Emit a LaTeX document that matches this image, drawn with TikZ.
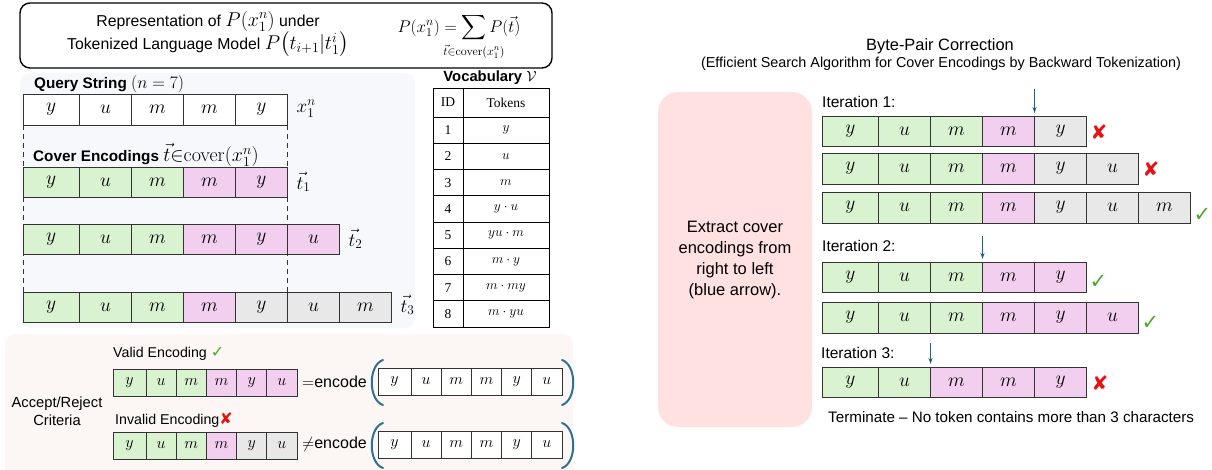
\RequirePackage{fix-cm}
\documentclass[tikz,border=0pt]{standalone}
\usepackage{exscale}
\usepackage[no-math]{fontspec}
\setmainfont{Liberation Sans}
\newfontfamily\tabfont{Liberation Serif}
\newfontfamily\symfont{DejaVu Sans}
\usetikzlibrary{arrows.meta,calc}

\definecolor{cellgreen}{HTML}{D9F2D0}
\definecolor{cellpink}{HTML}{F2CEEF}
\definecolor{cellgray}{HTML}{E8E8E8}
\definecolor{querybg}{HTML}{F6F8FB}
\definecolor{criteriabg}{HTML}{FCF7F4}
\definecolor{notebg}{HTML}{FFE1E1}
\definecolor{arrowblue}{HTML}{1F5F8B}
\definecolor{bracketblue}{HTML}{2F7196}
\definecolor{okgreen}{HTML}{4EA72E}
\definecolor{badred}{HTML}{E81010}

\newcommand{\bigmath}[1]{{\fontsize{20}{22}\selectfont$#1$}}

\tikzset{
  tokcell/.style={draw=black!80, line width=0.9pt, inner sep=0pt, outer sep=0pt,
    font=\fontsize{19.5}{21}\selectfont},
  smallcell/.style={font=\fontsize{16}{18}\selectfont},
  vcell/.style={draw=black, line width=0.8pt, inner sep=0pt, outer sep=0pt,
    anchor=north west, font=\tabfont\fontsize{13.5}{15}\selectfont},
  txt/.style={font=\fontsize{15.5}{18}\selectfont, inner sep=1pt},
  boldtxt/.style={font=\bfseries\fontsize{15.3}{18}\selectfont, inner sep=1pt},
  veclabel/.style={anchor=west, inner sep=1pt, font=\fontsize{19}{21}\selectfont},
  dashline/.style={dashed, dash pattern=on 5pt off 4pt, line width=1pt, black!80},
  bluearrow/.style={-{Stealth[length=6pt,width=4pt]}, line width=1pt, arrowblue},
  bracket/.style={line width=2pt, bracketblue, line cap=round},
  okmark/.style={text=okgreen, inner sep=1pt, font=\symfont\fontsize{21}{21}\selectfont},
  badmark/.style={text=badred, inner sep=1pt, font=\symfont\bfseries\fontsize{20}{20}\selectfont},
}

% row of token cells: [style]{name}{x}{y}{first width}{width}{height}{token/fill list}
\newcommand{\tokrow}[8][]{%
  \foreach \tok/\fil [count=\i] in {#8}{%
    \pgfmathsetmacro{\cx}{#3+(\i>1)*(#5+(\i-2)*#6)}%
    \pgfmathsetmacro{\cw}{(\i==1)*#5+(\i>1)*#6}%
    \node[tokcell, #1, fill=\fil, minimum width=\cw pt, minimum height=#7 pt,
      anchor=north west] (#2-\i) at (\cx,#4) {$\tok$};
  }}

\begin{document}
\begin{tikzpicture}[x=1pt,y=-1pt]
  \useasboundingbox (0,0) rectangle (1212,470);

  % Background panels
  \fill[querybg, rounded corners=10pt] (20,73) rectangle (415,328);
  \fill[criteriabg, rounded corners=10pt] (5,334) rectangle (573,490);
  \fill[notebg, rounded corners=20pt] (658,92) rectangle (812,427);

  % Header box
  \draw[line width=1.4pt, rounded corners=10pt] (20,3) rectangle (552,68);
  \node[txt, align=center, font=\fontsize{15.8}{22}\selectfont] (reprtext) at (208,34)
    {Representation of \bigmath{P(x_1^n)} under\\
     Tokenized Language Model \bigmath{P\big(t_{i+1}|t_1^i\big)}};
  \node[font=\fontsize{17}{19}\selectfont, inner sep=0pt] (reprsum) at (459,37)
    {$\displaystyle P(x_1^n)=\sum_{\makebox[0pt]{$\scriptstyle\vec{t}{\in}\mathrm{cover}(x_1^n)$}}P(\vec{t})$};

  % Query string
  \node[boldtxt, anchor=west] (qtitle) at (33,84)
    {Query String \mdseries{\fontsize{17.5}{19}\selectfont$(n=7)$}};
  \tokrow{q}{23}{94}{56.5}{52}{31}{y/white,u/white,m/white,m/white,y/white}
  \node[veclabel] (qlab) at ($(q-5.east)+(8,-1)$) {$x_1^n$};

  % Cover encodings
  \node[boldtxt, anchor=west] (ctitle) at (32,155)
    {Cover Encodings \mdseries\bigmath{\vec{t}{\in}\mathrm{cover}(x_1^n)}};
  \tokrow{ta}{23}{167}{56.5}{52}{30}{y/cellgreen,u/cellgreen,m/cellgreen,m/cellpink,y/cellpink}
  \tokrow{tb}{23}{224}{56.5}{52}{30}{y/cellgreen,u/cellgreen,m/cellgreen,m/cellpink,y/cellpink,u/cellpink}
  \tokrow{tc}{23}{292}{56.5}{52}{30}{y/cellgreen,u/cellgreen,m/cellgreen,m/cellpink,y/cellgray,u/cellgray,m/cellgray}
  \node[veclabel] (talab) at ($(ta-5.east)+(8,0)$) {$\vec{t}_1$};
  \node[veclabel] (tblab) at ($(tb-6.east)+(8,0)$) {$\vec{t}_2$};
  \node[veclabel] (tclab) at ($(tc-7.east)+(8,-2)$) {$\vec{t}_3$};

  % Dashed guides
  \draw[dashline] (q-1.south west) -- (tc-1.north west);
  \draw[dashline] (q-5.south east) -- (tc-5.north east);

  % Vocabulary table
  \node[boldtxt, font=\bfseries\fontsize{14.8}{17}\selectfont] (vtitle) at (490,78)
    {Vocabulary \mdseries$\mathcal{V}$};
  \node[vcell, minimum width=30pt, minimum height=29pt] (idhead) at (433,88) {ID};
  \node[vcell, minimum width=86pt, minimum height=29pt] (tkhead) at (463,88) {Tokens};
  \foreach \id/\tk in {1/y, 2/u, 3/m, 4/y\cdot u, 5/yu\cdot m, 6/m\cdot y, 7/m\cdot my, 8/m\cdot yu}{
    \node[vcell, minimum width=30pt, minimum height=26.25pt] (id-\id)
      at (433,{117+(\id-1)*26.25}) {\id};
    \node[vcell, minimum width=86pt, minimum height=26.25pt] (tk-\id)
      at (463,{117+(\id-1)*26.25}) {$\tk$};
  }

  % Accept / reject criteria
  \node[txt, align=center, font=\fontsize{14.7}{18}\selectfont] (crit) at (57,411) {Accept/Reject\\Criteria};
  \node[txt, anchor=west, font=\fontsize{14.2}{16}\selectfont] (validtxt) at (112,354)
    {Valid Encoding {\symfont\fontsize{16}{16}\selectfont\color{okgreen}✓}};
  \node[txt, anchor=west, font=\fontsize{14.2}{16}\selectfont] (invalidtxt) at (114,420)
    {Invalid Encoding{\symfont\bfseries\fontsize{16}{16}\selectfont\color{badred}✘}};
  \tokrow[smallcell]{va}{113}{369}{33}{30.2}{27}{y/cellgreen,u/cellgreen,m/cellgreen,m/cellpink,y/cellpink,u/cellpink}
  \tokrow[smallcell]{iv}{113}{432}{33}{30.2}{27}{y/cellgreen,u/cellgreen,m/cellgreen,m/cellpink,y/cellgray,u/cellgray}
  \tokrow[smallcell]{ea}{378}{368}{33}{30.2}{27}{y/white,u/white,m/white,m/white,y/white,u/white}
  \tokrow[smallcell]{eb}{378}{431}{33}{30.2}{27}{y/white,u/white,m/white,m/white,y/white,u/white}
  \node[txt, anchor=east, font=\fontsize{16}{18}\selectfont] (eqtxt) at ($(ea-1.west)+(-10,0)$) {$=$encode};
  \node[txt, anchor=east, font=\fontsize{16}{18}\selectfont] (netxt) at ($(eb-1.west)+(-10,0)$) {$\neq$encode};

  % Brackets round the encode rows
  \foreach \r in {ea,eb}{
    \coordinate (\r-lt) at ($(\r-1.north west)+(5,-8)$);
    \coordinate (\r-lb) at ($(\r-1.south west)+(5,10)$);
    \coordinate (\r-rt) at ($(\r-6.north east)+(0,-8)$);
    \coordinate (\r-rb) at ($(\r-6.south east)+(0,10)$);
    \draw[bracket] (\r-lt) .. controls ($(\r-lt)+(-15,5)$) and ($(\r-lb)+(-15,-5)$) .. (\r-lb);
    \draw[bracket] (\r-rt) .. controls ($(\r-rt)+(15,5)$) and ($(\r-rb)+(15,-5)$) .. (\r-rb);
  }

  % Byte-pair correction
  \node[font=\fontsize{16.4}{18}\selectfont, inner sep=1pt] (bptitle) at (940,46) {Byte-Pair Correction};
  \node[font=\fontsize{14.4}{16}\selectfont, inner sep=1pt] (bpsub) at (941,64)
    {(Efficient Search Algorithm for Cover Encodings by Backward Tokenization)};
  \node[align=center, font=\fontsize{16.5}{21}\selectfont] (notetxt) at (735,260)
    {Extract cover\\encodings from\\right to left\\(blue arrow).};

  % Iteration 1
  \node[txt, anchor=west] (it1) at (821,102) {Iteration 1:};
  \tokrow{a}{822}{116}{56.5}{52}{30}{y/cellgreen,u/cellgreen,m/cellgreen,m/cellpink,y/cellgray}
  \tokrow{b}{822}{153}{56.5}{52}{31}{y/cellgreen,u/cellgreen,m/cellgreen,m/cellpink,y/cellgray,u/cellgray}
  \tokrow{c}{822}{192}{56.5}{52}{31}{y/cellgreen,u/cellgreen,m/cellgreen,m/cellpink,y/cellgray,u/cellgray,m/cellgray}
  \coordinate (arr1) at ($(a-4.north east)+(0,-27)$);
  \draw[bluearrow, shorten >=3pt] (arr1) -- (a-4.north east);
  \node[badmark, anchor=west] (amark) at ($(a-5.east)+(3,1)$) {✘};
  \node[badmark, anchor=west] (bmark) at ($(b-6.east)+(3,1)$) {✘};
  \node[okmark, anchor=west] (cmark) at ($(c-7.east)+(2,7)$) {✓};

  % Iteration 2
  \node[txt, anchor=west] (it2) at (821,246) {Iteration 2:};
  \tokrow{d}{822}{262}{56.5}{52}{30}{y/cellgreen,u/cellgreen,m/cellgreen,m/cellpink,y/cellpink}
  \tokrow{e}{822}{302}{56.5}{52}{31}{y/cellgreen,u/cellgreen,m/cellgreen,m/cellpink,y/cellpink,u/cellpink}
  \coordinate (arr2) at ($(d-3.north east)+(0,-26)$);
  \draw[bluearrow, shorten >=3pt] (arr2) -- (d-3.north east);
  \node[okmark, anchor=west] (dmark) at ($(d-5.east)+(2,5)$) {✓};
  \node[okmark, anchor=west] (emark) at ($(e-6.east)+(2,5)$) {✓};

  % Iteration 3
  \node[txt, anchor=west] (it3) at (820,353) {Iteration 3:};
  \tokrow{f}{822}{367}{56.5}{52}{30}{y/cellgreen,u/cellgreen,m/cellpink,m/cellpink,y/cellpink}
  \coordinate (arr3) at ($(f-2.north east)+(0,-24)$);
  \draw[bluearrow, shorten >=3pt] (arr3) -- (f-2.north east);
  \node[badmark, anchor=west] (fmark) at ($(f-5.east)+(4,1)$) {✘};
  \node[txt, anchor=west, font=\fontsize{15.2}{18}\selectfont] (termtxt) at (827,417)
    {Terminate -- No token contains more than 3 characters};

\end{tikzpicture}
\end{document}
